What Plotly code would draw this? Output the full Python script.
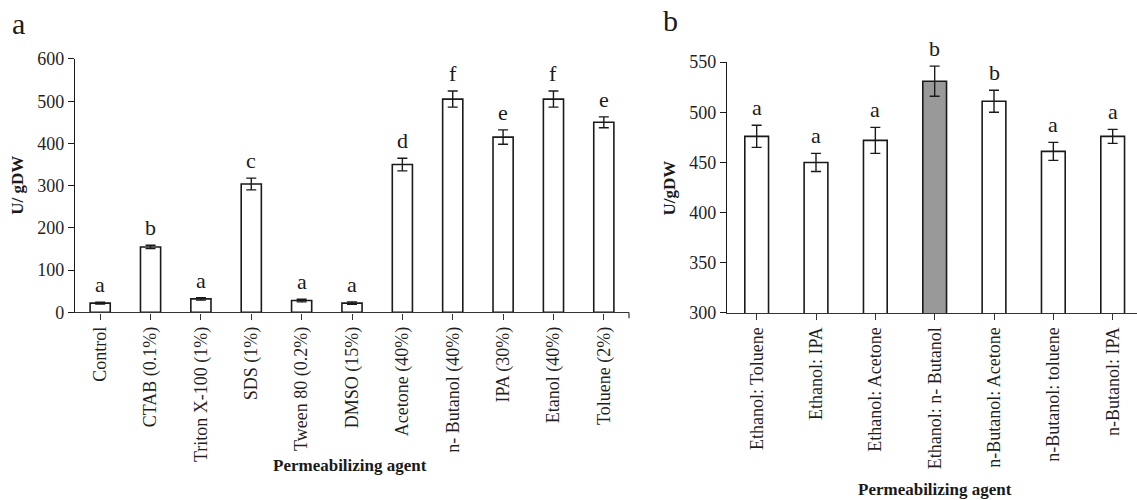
import plotly.graph_objects as go

# Panel a: single permeabilizing agents
agents_a = ["Control", "CTAB (0.1%)", "Triton X-100 (1%)", "SDS (1%)",
            "Tween 80 (0.2%)", "DMSO (15%)", "Acetone (40%)", "n- Butanol (40%)",
            "IPA (30%)", "Etanol (40%)", "Toluene (2%)"]
activity_a = [22, 155, 32, 304, 28, 22, 350, 505, 415, 505, 450]
error_a = [2, 4, 3, 14, 3, 3, 15, 19, 17, 19, 13]
letters_a = ["a", "b", "a", "c", "a", "a", "d", "f", "e", "f", "e"]

# Panel b: solvent combinations
agents_b = ["Ethanol: Toluene", "Ethanol: IPA", "Ethanol: Acetone",
            "Ethanol: n- Butanol", "n-Butanol: Acetone", "n-Butanol: toluene",
            "n-Butanol: IPA"]
activity_b = [476, 450, 472, 531, 511, 461, 476]
error_b = [11, 9, 13, 15, 11, 9, 7]
letters_b = ["a", "a", "a", "b", "b", "a", "a"]

W, H = 1137, 500
SERIF = "Liberation Serif, Times New Roman, serif"
INK = "#1a1a1a"


def px_x(p):
    return p / W


def px_y(p):
    return 1 - p / H


best_b = max(activity_b)
colors_b = ["#999999" if v == best_b else "white" for v in activity_b]

fig = go.Figure()

fig.add_trace(go.Bar(
    x=agents_a, y=activity_a, width=0.4,
    marker=dict(color="white", line=dict(color=INK, width=1.6)),
    error_y=dict(type="data", array=error_a, visible=True,
                 color=INK, thickness=1.4, width=5),
    xaxis="x", yaxis="y", showlegend=False,
))

fig.add_trace(go.Bar(
    x=agents_b, y=activity_b, width=0.4,
    marker=dict(color=colors_b, line=dict(color=INK, width=1.6)),
    error_y=dict(type="data", array=error_b, visible=True,
                 color=INK, thickness=1.4, width=5),
    xaxis="x2", yaxis="y2", showlegend=False,
))

tick_font = dict(family=SERIF, size=18, color="#1f1f1f")
common_x = dict(type="category", showline=True, linecolor="#333333", linewidth=1.2,
                ticks="outside", ticklen=6, tickcolor="#333333", tickwidth=1.2,
                tickangle=-90, tickfont=tick_font, showgrid=False, zeroline=False,
                fixedrange=True)
common_y = dict(showline=True, linecolor=INK, linewidth=1.2,
                ticks="outside", ticklen=6, tickcolor=INK, tickwidth=1.2,
                tickfont=tick_font, showgrid=False, zeroline=False, fixedrange=True)

fig.update_layout(
    width=W, height=H, autosize=False,
    margin=dict(l=0, r=0, t=0, b=0),
    paper_bgcolor="white", plot_bgcolor="white",
    bargap=0.6,
    xaxis=dict(domain=[px_x(75), px_x(629)], range=[-0.5, 10.5],
               anchor="y", **common_x),
    yaxis=dict(domain=[px_y(315), px_y(51)], range=[0, 600], dtick=100,
               anchor="x", **common_y),
    xaxis2=dict(domain=[px_x(727), 1.0], range=[-0.5, 6.41],
                anchor="y2", **common_x),
    yaxis2=dict(domain=[px_y(315.5), px_y(54.3)], range=[300, 550], dtick=50,
                anchor="x2", **common_y),
)

annotations = []
letter_font = dict(family=SERIF, size=22, color=INK)
for name, v, e, t in zip(agents_a, activity_a, error_a, letters_a):
    annotations.append(dict(x=name, y=v + e, xref="x", yref="y", text=t,
                            showarrow=False, xanchor="center", yanchor="bottom",
                            yshift=3, font=letter_font))
for name, v, e, t in zip(agents_b, activity_b, error_b, letters_b):
    annotations.append(dict(x=name, y=v + e, xref="x2", yref="y2", text=t,
                            showarrow=False, xanchor="center", yanchor="bottom",
                            yshift=3, font=letter_font))


def paper_text(x, y, text, font, angle=0):
    return dict(x=px_x(x), y=px_y(y), xref="paper", yref="paper", text=text,
                showarrow=False, xanchor="center", yanchor="middle",
                textangle=angle, font=font)


title_font = dict(family=SERIF, size=17, color=INK)
panel_font = dict(family=SERIF, size=30, color=INK)
annotations += [
    paper_text(18.5, 14, "a", panel_font),
    paper_text(670, 11, "b", panel_font),
    paper_text(18, 183, "<b>U/ gDW</b>", title_font, -90),
    paper_text(670, 186, "<b>U/gDW</b>", title_font, -90),
    paper_text(350, 474, "<b>Permeabilizing agent</b>", title_font),
    paper_text(935, 499, "<b>Permeabilizing agent</b>", title_font),
]
fig.update_layout(annotations=annotations)

# closing tick at the right end of the category axis in panel a
fig.add_shape(type="line", xref="x domain", yref="paper",
              x0=1, x1=1, y0=px_y(315), y1=px_y(321),
              line=dict(color="#333333", width=1.2))

fig.write_html("out.html")
